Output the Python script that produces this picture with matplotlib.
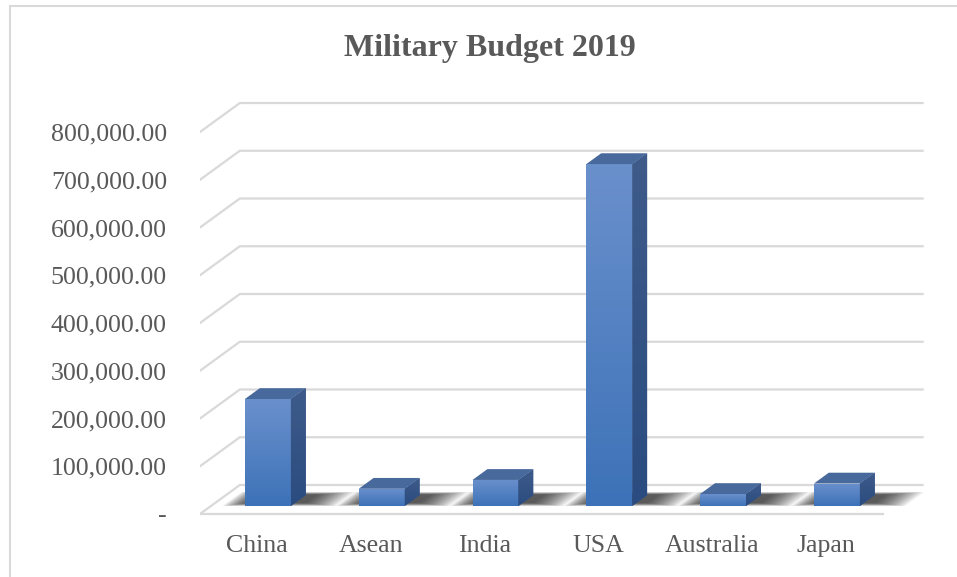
import numpy as np
import matplotlib
matplotlib.use('Agg')
import matplotlib.pyplot as plt
from matplotlib.patches import Polygon, Rectangle

countries = ['China', 'Asean', 'India', 'USA', 'Australia', 'Japan']
budget = [224000, 36000, 54500, 716000, 25000, 47000]
yticks = [0, 100000, 200000, 300000, 400000, 500000, 600000, 700000, 800000]
ylabels = ['-' if v == 0 else '{:,.2f}'.format(v) for v in yticks]

# fake 3d: depth 0 = front plane, 1 = back wall
DX = 0.35
DY = 60700
d1, d2 = 0.276, 0.65
w = 0.404
grid_c = '#d9d9d9'
text_c = '#595959'


def proj(x, y, d):
    return (x + d * DX, y + d * DY)


fig = plt.figure(figsize=(9.57, 5.77), dpi=100)
W, H = 957, 577
ax = fig.add_axes([200 / W, 48.7 / H, 734 / W, 434.5 / H])
ax.set_xlim(-0.5, 5.95)
ax.set_ylim(-30000, 880000)
for s in ax.spines.values():
    s.set_visible(False)

# chart border
fig.patches.append(Rectangle((10 / W, -0.5), 2, 1.5 - 6 / H, transform=fig.transFigure,
                             fill=False, ec=grid_c, lw=1.5))

x0, x1 = -0.5, 5.5
# back wall gridlines + left wall diagonals
for v in yticks:
    a = proj(x0, v, 0)
    b = proj(x0, v, 1)
    c = proj(x1, v, 1)
    ax.plot([a[0], b[0], c[0]], [a[1], b[1], c[1]], color=grid_c, lw=1.6, zorder=1,
            solid_joinstyle='miter')
# front edge of floor
ax.plot([x0, x1], [0, 0], color=grid_c, lw=1.6, zorder=1)

xs = np.arange(len(countries))

# soft shadows on the floor
for c in xs:
    for k in range(24):
        e = 0.013 * k
        l = c - w / 2 - 0.02 - e * 0.6
        r = c + w / 2 + 0.1 + e
        dd1 = d1 + 0.1 - e * 0.35
        dd2 = d2 + 0.02 + e * 0.3
        pts = [proj(l, 0, dd1), proj(r, 0, dd1), proj(r, 0, dd2), proj(l, 0, dd2)]
        ax.add_patch(Polygon(pts, closed=True, fc='black', ec='none', alpha=0.04, zorder=2))

# front faces
bars = ax.bar(xs + d1 * DX, budget, width=w, bottom=d1 * DY, color='#4a7cc0', zorder=4)
grad = np.linspace(0, 1, 100).reshape(-1, 1)
cmap = matplotlib.colors.LinearSegmentedColormap.from_list('f', ['#3d72b8', '#6a90cc'])
for rect in bars:
    bx, by = rect.get_x(), rect.get_y()
    bw, bh = rect.get_width(), rect.get_height()
    im = ax.imshow(grad, cmap=cmap, extent=[bx, bx + bw, by, by + bh], origin='lower',
                   aspect='auto', zorder=5)
    im.set_clip_path(rect)

# side and top faces
side_cmap = matplotlib.colors.LinearSegmentedColormap.from_list('s', ['#2b4c80', '#3e5b8a'])
for c, v in zip(xs, budget):
    r = c + w / 2
    l = c - w / 2
    side = [proj(r, 0, d1), proj(r, 0, d2), proj(r, v, d2), proj(r, v, d1)]
    sp = Polygon(side, closed=True, fc='#34558a', ec='none', zorder=5)
    ax.add_patch(sp)
    sx0, sx1 = side[0][0], side[1][0]
    im = ax.imshow(grad, cmap=side_cmap, extent=[sx0, sx1, side[1][1] - DY * (d2 - d1), side[2][1]],
                   origin='lower', aspect='auto', zorder=5)
    im.set_clip_path(sp)
    top = [proj(l, v, d1), proj(r, v, d1), proj(r, v, d2), proj(l, v, d2)]
    ax.add_patch(Polygon(top, closed=True, fc='#48699b', ec='none', zorder=6))

ax.set_xticks(xs)
ax.set_xticklabels(countries)
ax.set_yticks(yticks)
ax.set_yticklabels(ylabels)
ax.tick_params(axis='both', length=0, labelcolor=text_c, labelsize=18.6)
ax.tick_params(axis='y', pad=23.8)
ax.tick_params(axis='x', pad=5)
for t in ax.get_xticklabels() + ax.get_yticklabels():
    t.set_fontfamily('Liberation Serif')

fig.text(489.5 / W, 1 - 56 / H, 'Military Budget 2019', ha='center', va='baseline',
         fontsize=23, fontweight='bold', color=text_c, family='Liberation Serif')

fig.savefig('out.png', dpi=100)
